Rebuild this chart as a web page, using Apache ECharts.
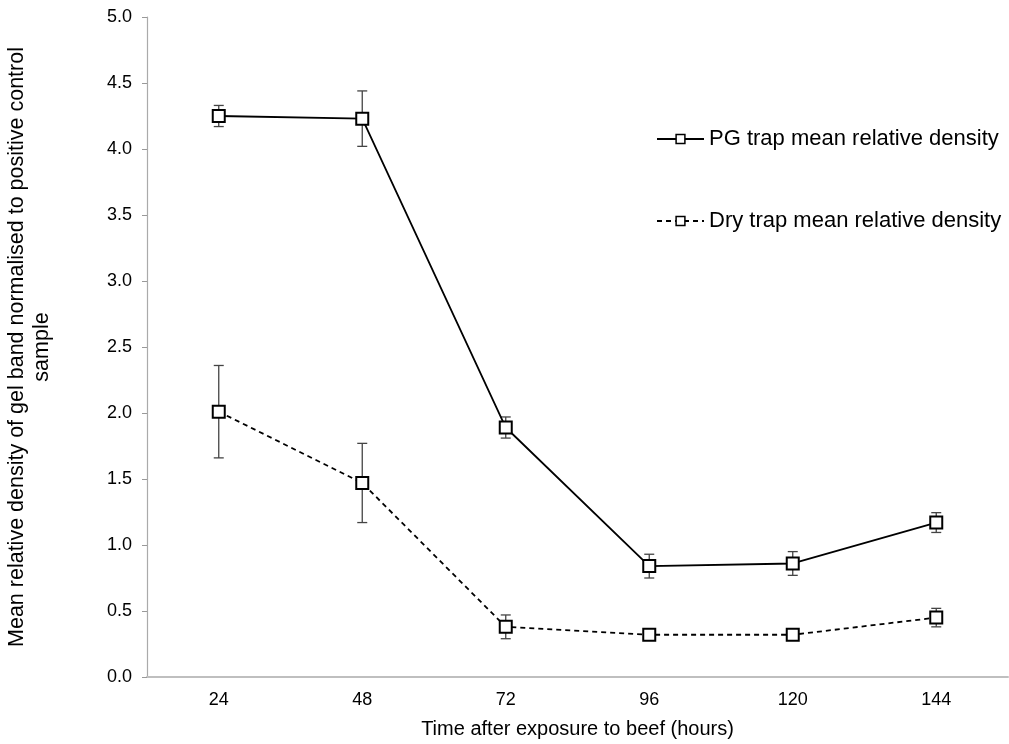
<!DOCTYPE html>
<html>
<head>
<meta charset="utf-8">
<script src="https://cdn.jsdelivr.net/npm/echarts@6.0.0/dist/echarts.min.js"></script>
<style>
  html, body { margin: 0; padding: 0; background: #fff; }
  #chart { width: 1009px; height: 744px; }
</style>
</head>
<body>
<div id="chart"></div>
<script>
// hours after exposure
const hours = ['24', '48', '72', '96', '120', '144']

// PG trap
const pgMean = [4.25, 4.23, 1.89, 0.84, 0.86, 1.17]
const pgErr = [0.08, 0.21, 0.08, 0.09, 0.09, 0.075]

// Dry trap
const dryMean = [2.01, 1.47, 0.38, 0.32, 0.32, 0.45]
const dryErr = [0.35, 0.30, 0.09, 0.04, 0.04, 0.07]

const yTicks = [0, 0.5, 1, 1.5, 2, 2.5, 3, 3.5, 4, 4.5, 5]

const font = 'Arial, "Liberation Sans", sans-serif'

const errorData = (mean, err) => mean.map((m, i) => [i, m - err[i], m + err[i]])

const errorSeries = (name, mean, err) => ({
  type: 'custom',
  name: name + ' err',
  z: 1,
  silent: true,
  data: errorData(mean, err),
  renderItem: (params, api) => {
    const lo = api.coord([api.value(0), api.value(1)])
    const hi = api.coord([api.value(0), api.value(2)])
    const cap = 5
    const style = { stroke: '#444', lineWidth: 1.3 }
    return {
      type: 'group',
      children: [
        { type: 'line', shape: { x1: lo[0], y1: lo[1], x2: hi[0], y2: hi[1] }, style },
        { type: 'line', shape: { x1: lo[0] - cap, y1: lo[1], x2: lo[0] + cap, y2: lo[1] }, style },
        { type: 'line', shape: { x1: hi[0] - cap, y1: hi[1], x2: hi[0] + cap, y2: hi[1] }, style }
      ]
    }
  }
})

const lineSeries = (name, data, dash) => ({
  type: 'line',
  name,
  z: 3,
  data,
  symbol: 'rect',
  symbolSize: 12,
  showAllSymbol: true,
  lineStyle: { color: '#000', width: 1.8, type: dash ? [5, 4] : 'solid' },
  itemStyle: { color: '#fff', borderColor: '#000', borderWidth: 2 },
  emphasis: { disabled: true }
})

const chart = echarts.init(document.getElementById('chart'))
chart.setOption({
  animation: false,
  textStyle: { fontFamily: font },
  grid: { left: 147, right: 1, top: 17, bottom: 67, outerBoundsMode: 'none', containLabel: false },
  legend: {
    orient: 'vertical',
    left: 651,
    top: 123,
    itemGap: 60,
    itemWidth: 47,
    itemHeight: 11,
    selectedMode: false,
    textStyle: { fontSize: 22, color: '#000', fontFamily: font },
    data: [
      { name: 'PG trap mean relative density', itemStyle: { borderWidth: 1.5 } },
      { name: 'Dry trap mean relative density', itemStyle: { borderWidth: 1.5 } }
    ]
  },
  xAxis: {
    type: 'category',
    data: hours,
    boundaryGap: true,
    name: 'Time after exposure to beef (hours)',
    nameLocation: 'middle',
    nameGap: 42,
    nameTextStyle: { fontSize: 20, color: '#000' },
    axisLine: { lineStyle: { color: '#bfbfbf', width: 2 } },
    axisTick: { alignWithLabel: false, length: 6, lineStyle: { color: '#999' } },
    axisLabel: { fontSize: 18, color: '#000', margin: 14 }
  },
  yAxis: {
    type: 'value',
    min: 0,
    max: 5,
    interval: 0.5,
    name: 'Mean relative density of gel band normalised to positive control\nsample',
    nameLocation: 'middle',
    nameGap: 92,
    nameRotate: 90,
    nameTextStyle: { fontSize: 21.5, color: '#000', lineHeight: 25 },
    splitLine: { show: false },
    axisLine: { show: true, lineStyle: { color: '#aaa', width: 1.2 } },
    axisTick: { show: true, length: 5, lineStyle: { color: '#999' } },
    axisLabel: {
      fontSize: 18,
      color: '#000',
      margin: 15,
      formatter: v => yTicks.includes(v) ? v.toFixed(1) : ''
    }
  },
  series: [
    errorSeries('PG', pgMean, pgErr),
    errorSeries('Dry', dryMean, dryErr),
    lineSeries('PG trap mean relative density', pgMean, false),
    lineSeries('Dry trap mean relative density', dryMean, true)
  ]
})
</script>
</body>
</html>
